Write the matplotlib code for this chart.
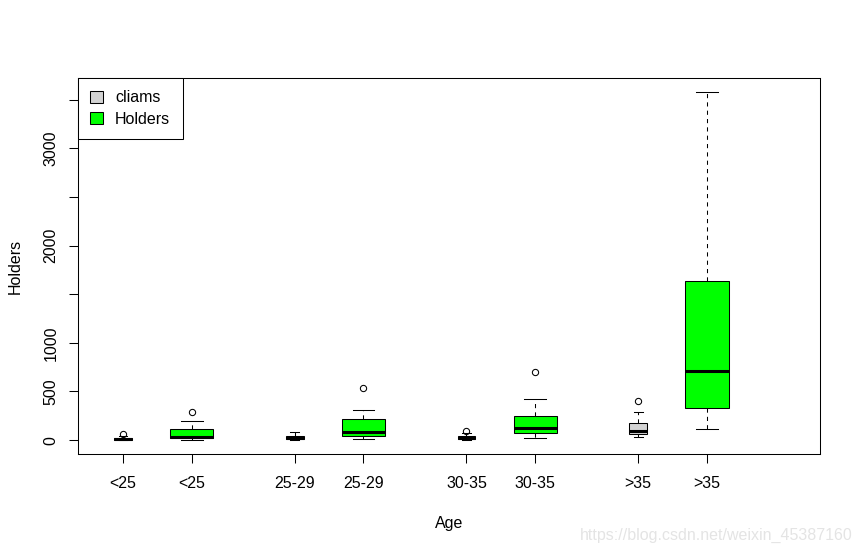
import numpy as np
import matplotlib
matplotlib.use("Agg")
import matplotlib.pyplot as plt
from matplotlib.patches import Patch

plt.rcParams['font.family'] = ['Liberation Sans', 'DejaVu Sans']

ages = ["<25", "25-29", "30-35", ">35"]

# Insurance data (MASS), 16 rows per age group
claims_u25 = [38, 63, 19, 4, 22, 25, 14, 4, 5, 10, 8, 3, 2, 7, 5, 0]
claims_25_29 = [35, 84, 52, 18, 19, 51, 46, 15, 11, 24, 19, 2, 5, 10, 7, 6]
claims_30_35 = [20, 89, 74, 19, 22, 49, 39, 12, 10, 37, 24, 8, 4, 22, 16, 8]
claims_o35 = [156, 400, 233, 77, 87, 290, 143, 53, 67, 187, 101, 37, 36, 102, 63, 33]

holders_u25 = [197, 284, 133, 24, 85, 149, 66, 9, 35, 53, 24, 7, 20, 31, 18, 3]
holders_25_29 = [264, 536, 286, 71, 139, 313, 175, 48, 73, 155, 78, 29, 33, 81, 39, 16]
holders_30_35 = [246, 696, 355, 99, 151, 419, 221, 72, 89, 240, 121, 43, 40, 122, 68, 25]
holders_o35 = [1680, 3582, 1640, 452, 931, 2443, 1110, 322, 648, 1635, 692, 245, 316, 724, 344, 114]

claims = [claims_u25, claims_25_29, claims_30_35, claims_o35]
holders = [holders_u25, holders_25_29, holders_30_35, holders_o35]


def tukey_stats(vals):
    # R style boxplot stats (fivenum hinges, 1.5 IQR fences)
    x = np.sort(np.asarray(vals, dtype=float))
    n = len(x)
    n4 = np.floor((n + 3) / 2) / 2
    d = np.array([1, n4, (n + 1) / 2, n + 1 - n4, n]) - 1
    fn = 0.5 * (x[np.floor(d).astype(int)] + x[np.ceil(d).astype(int)])
    q1, med, q3 = fn[1], fn[2], fn[3]
    iqr = q3 - q1
    lo, hi = q1 - 1.5 * iqr, q3 + 1.5 * iqr
    inside = x[(x >= lo) & (x <= hi)]
    fliers = x[(x < lo) | (x > hi)]
    return dict(med=med, q1=q1, q3=q3, whislo=inside.min(), whishi=inside.max(),
                fliers=fliers)


fig = plt.figure(figsize=(8.61, 5.52), dpi=100)
ax = fig.add_axes([78 / 861, 1 - 454 / 552, 742 / 861, 376 / 552])

pos_c = [1, 3.5, 6, 8.5]
pos_h = [2, 4.5, 7, 9.5]

lw = 0.75
fs = 11.5


def draw(data, pos, width, color):
    stats = [tukey_stats(v) for v in data]
    ax.bxp(stats, positions=pos, widths=width, capwidths=width / 2,
           patch_artist=True, manage_ticks=False,
           boxprops=dict(facecolor=color, edgecolor='black', linewidth=lw),
           medianprops=dict(color='black', linewidth=2.2, solid_capstyle='butt'),
           whiskerprops=dict(color='black', linewidth=lw, linestyle=(0, (4, 4))),
           capprops=dict(color='black', linewidth=lw),
           flierprops=dict(marker='o', markerfacecolor='none', markeredgecolor='black',
                           markersize=4.5, markeredgewidth=lw))


draw(claims, pos_c, 0.26, '#D3D3D3')
draw(holders, pos_h, 0.63, '#00FF00')

ax.set_xlim(0.345, 11.146)
ax.set_ylim(-143.3, 3725.3)

ax.set_xticks(sorted(pos_c + pos_h))
ax.set_xticklabels([a for a in ages for _ in range(2)])
yt = np.arange(0, 3501, 500)
ax.set_yticks(yt)
ax.set_yticklabels([str(v) if v in (0, 500, 1000, 2000, 3000) else "" for v in yt],
                   rotation=90, va='center')
ax.tick_params(length=6.5, width=lw, labelsize=fs)
ax.tick_params(axis='x', pad=9.5)
ax.tick_params(axis='y', pad=7.5)
for s in ax.spines.values():
    s.set_linewidth(lw)

ax.set_xlabel("Age", fontsize=fs, labelpad=18)
ax.set_ylabel("Holders", fontsize=fs, labelpad=15)

handles = [Patch(facecolor='#D3D3D3', edgecolor='black', linewidth=lw),
           Patch(facecolor='#00FF00', edgecolor='black', linewidth=lw)]
leg = ax.legend(handles, ["cliams", "Holders"], loc='upper left', fontsize=fs,
                borderaxespad=0, fancybox=False, framealpha=1, edgecolor='black',
                handlelength=0.8, handleheight=0.8, labelspacing=0.4,
                borderpad=0.78, handletextpad=0.75)
leg.get_frame().set_linewidth(lw)

fig.text(580 / 861, 1 - 535 / 552, "https://blog.csdn.net/weixin_45387160", ha='left',
         va='center', fontsize=fs, color='#e4e4e4')

fig.savefig("out.png", dpi=100)
